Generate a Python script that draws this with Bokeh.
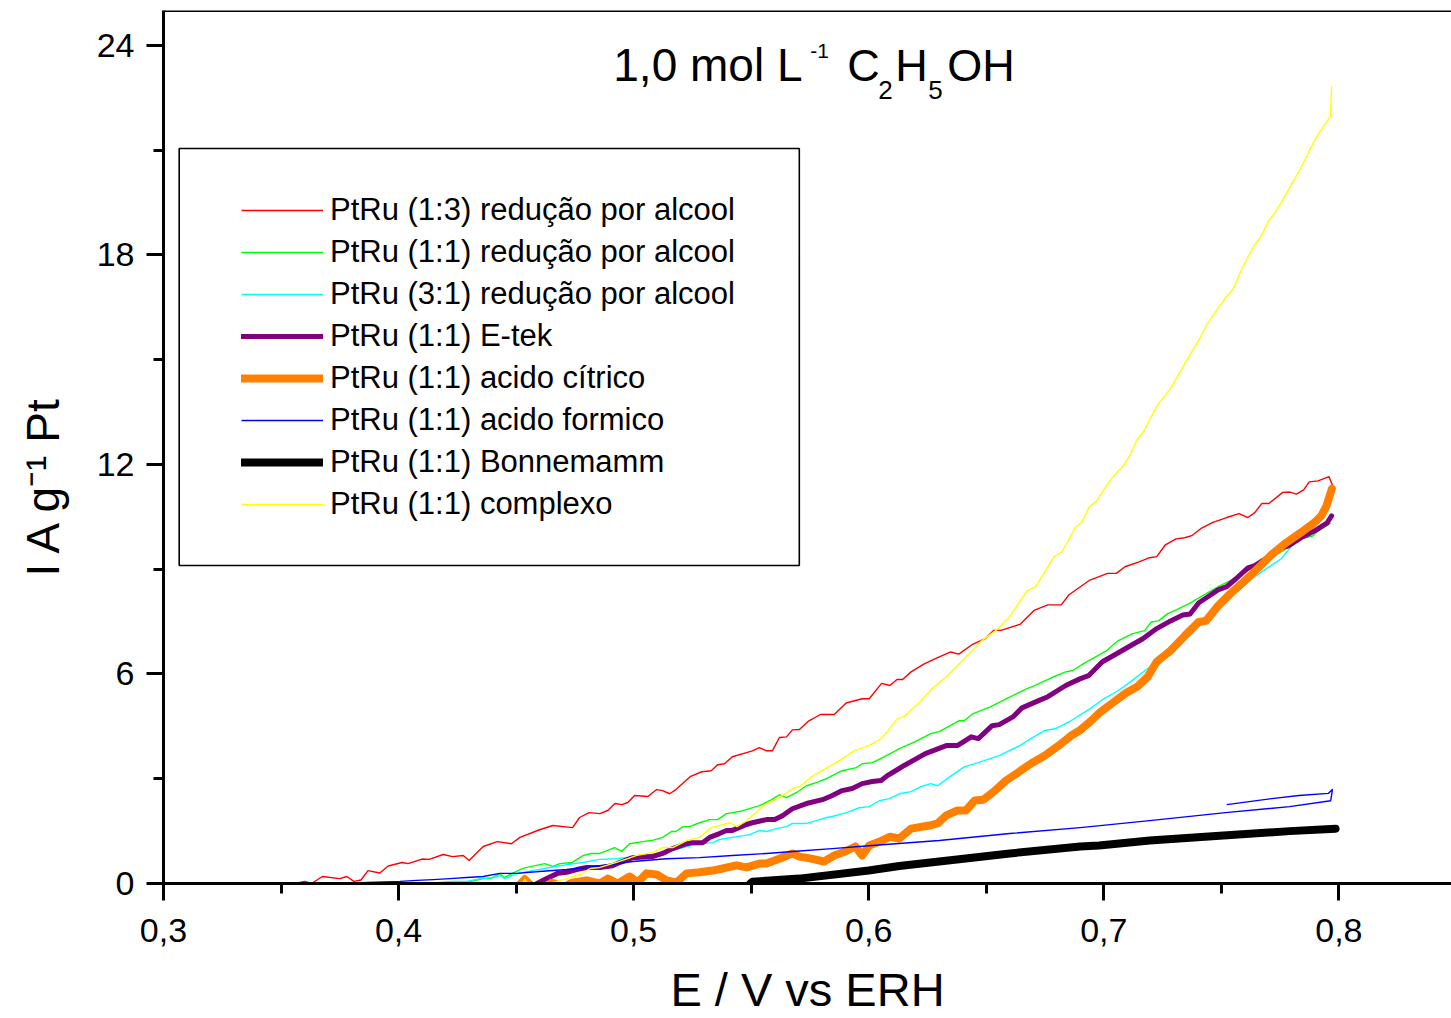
from bokeh.plotting import figure
from bokeh.models import (Range1d, FixedTicker, CustomJSTickFormatter, Label,
                          Legend, LegendItem, BoxAnnotation, Span)
from bokeh.embed import file_html
from bokeh.resources import INLINE

# ---------------- data (E / V vs ERH, I / A g-1 Pt) ----------------
red_pts = [(0.356, 0.0), (0.360, 0.06), (0.363, 0.0), (0.3676, 0.2), (0.375, 0.14), (0.378, 0.2),
           (0.381, 0.06), (0.384, 0.1), (0.387, 0.37), (0.392, 0.3), (0.3956, 0.5), (0.4015, 0.6),
           (0.404, 0.57), (0.410, 0.7), (0.413, 0.69), (0.419, 0.83), (0.423, 0.77), (0.4275, 0.8),
           (0.430, 0.66), (0.436, 1.06), (0.442, 1.2), (0.448, 1.14), (0.4516, 1.32), (0.460, 1.54),
           (0.4656, 1.66), (0.474, 1.6), (0.477, 1.89), (0.481, 2.03), (0.4856, 2.0), (0.489, 2.09),
           (0.492, 2.29), (0.495, 2.26), (0.4975, 2.32), (0.5004, 2.52), (0.506, 2.49), (0.5098, 2.69),
           (0.5123, 2.66), (0.5153, 2.57), (0.518, 2.69), (0.524, 3.06), (0.529, 3.2), (0.533, 3.23),
           (0.5357, 3.4), (0.5386, 3.43), (0.542, 3.63), (0.548, 3.75), (0.5505, 3.8), (0.5535, 3.89),
           (0.5565, 3.8), (0.559, 3.8), (0.562, 4.18), (0.565, 4.2), (0.5675, 4.4), (0.5705, 4.41),
           (0.5742, 4.64), (0.5794, 4.84), (0.5853, 4.84), (0.5904, 5.17), (0.5972, 5.29), (0.6002, 5.29),
           (0.6055, 5.73), (0.609, 5.67), (0.612, 5.84), (0.6144, 5.84), (0.618, 6.06), (0.6234, 6.28),
           (0.6293, 6.47), (0.6349, 6.63), (0.6383, 6.57), (0.6442, 6.85), (0.6495, 7.01), (0.6532, 7.25),
           (0.6562, 7.25), (0.6643, 7.42), (0.6703, 7.82), (0.6762, 7.98), (0.6819, 7.98), (0.6852, 8.27),
           (0.6941, 8.69), (0.7016, 8.88), (0.7053, 8.88), (0.709, 9.07), (0.715, 9.21), (0.7195, 9.33),
           (0.7225, 9.36), (0.7262, 9.7), (0.7307, 9.87), (0.7344, 9.9), (0.7374, 9.96), (0.7412, 10.16),
           (0.7464, 10.34), (0.7523, 10.48), (0.7575, 10.59), (0.7613, 10.48), (0.7642, 10.62),
           (0.7672, 10.88), (0.7702, 10.88), (0.7761, 11.2), (0.7791, 11.21), (0.782, 11.15),
           (0.785, 11.27), (0.7874, 11.5), (0.7911, 11.53), (0.7958, 11.65), (0.7973, 11.4)]

green_pts = [(0.4168, 0.0), (0.4205, 0.03), (0.4248, 0.0), (0.431, 0.06), (0.436, 0.14), (0.439, 0.14),
             (0.443, 0.28), (0.445, 0.17), (0.4486, 0.3), (0.4524, 0.42), (0.4546, 0.46), (0.4622, 0.57),
             (0.4656, 0.49), (0.4686, 0.57), (0.4737, 0.6), (0.4784, 0.8), (0.482, 0.86), (0.4856, 0.86),
             (0.4919, 1.03), (0.4949, 0.92), (0.4983, 1.14), (0.5038, 1.2), (0.5076, 1.23), (0.5123, 1.32),
             (0.5161, 1.49), (0.518, 1.49), (0.521, 1.63), (0.5238, 1.63), (0.528, 1.74), (0.5323, 1.83),
             (0.5357, 1.83), (0.5395, 2.0), (0.545, 2.06), (0.5535, 2.23), (0.5578, 2.37), (0.562, 2.54),
             (0.565, 2.46), (0.5692, 2.6), (0.5735, 2.8), (0.5777, 2.89), (0.582, 3.0), (0.5887, 3.23),
             (0.5947, 3.32), (0.5972, 3.43), (0.6015, 3.46), (0.6057, 3.6), (0.61, 3.75), (0.613, 3.86),
             (0.6198, 4.06), (0.6264, 4.29), (0.63, 4.35), (0.6383, 4.66), (0.6406, 4.66), (0.6442, 4.86),
             (0.6517, 5.06), (0.6584, 5.29), (0.6673, 5.58), (0.6703, 5.66), (0.6786, 5.92), (0.6838, 6.06),
             (0.6868, 6.1), (0.6912, 6.29), (0.6965, 6.49), (0.701, 6.66), (0.706, 6.95), (0.712, 7.15),
             (0.7173, 7.24), (0.7203, 7.49), (0.7233, 7.52), (0.727, 7.72), (0.7315, 7.86), (0.7367, 8.03),
             (0.7404, 8.18), (0.7493, 8.52), (0.7538, 8.67), (0.776, 9.52), (0.7836, 9.87), (0.7888, 9.95),
             (0.7911, 10.09), (0.7965, 10.32)]

cyan_pts = [(0.4112, 0.0), (0.4232, 0.06), (0.429, 0.06), (0.4346, 0.14), (0.4402, 0.17), (0.4431, 0.23),
            (0.4452, 0.14), (0.45, 0.28), (0.457, 0.37), (0.4643, 0.46), (0.4715, 0.54), (0.4784, 0.6),
            (0.4856, 0.69), (0.4928, 0.71), (0.4996, 0.77), (0.5068, 0.83), (0.514, 0.89), (0.521, 1.03),
            (0.528, 1.14), (0.5336, 1.17), (0.5365, 1.26), (0.542, 1.32), (0.5493, 1.4), (0.5535, 1.52),
            (0.5565, 1.49), (0.5607, 1.57), (0.565, 1.63), (0.5675, 1.72), (0.5735, 1.72), (0.5777, 1.8),
            (0.582, 1.89), (0.5845, 1.92), (0.5905, 2.03), (0.596, 2.17), (0.6002, 2.2), (0.6045, 2.37),
            (0.6087, 2.43), (0.613, 2.57), (0.618, 2.63), (0.622, 2.77), (0.6264, 2.86), (0.6293, 2.8),
            (0.6346, 3.06), (0.6406, 3.34), (0.6465, 3.46), (0.6555, 3.66), (0.6605, 3.83), (0.6643, 3.95),
            (0.6689, 4.15), (0.6748, 4.38), (0.6793, 4.43), (0.686, 4.66), (0.694, 5.0), (0.7, 5.29),
            (0.706, 5.52), (0.712, 5.81), (0.7195, 6.2), (0.727, 6.67), (0.7344, 7.06), (0.7404, 7.44),
            (0.7455, 7.78), (0.751, 8.05), (0.757, 8.38), (0.763, 8.72), (0.7696, 9.04), (0.7755, 9.3),
            (0.7793, 9.62), (0.7852, 9.95), (0.7911, 10.15), (0.7965, 10.38)]

purple_pts = [(0.4588, 0.0), (0.463, 0.14), (0.4677, 0.29), (0.4715, 0.32), (0.4757, 0.4), (0.48, 0.46),
              (0.4856, 0.46), (0.491, 0.51), (0.494, 0.6), (0.4996, 0.74), (0.508, 0.77), (0.5123, 0.86),
              (0.5166, 1.0), (0.5225, 1.14), (0.525, 1.17), (0.5293, 1.17), (0.5323, 1.32), (0.5365, 1.43),
              (0.5395, 1.52), (0.542, 1.52), (0.548, 1.69), (0.5505, 1.74), (0.5565, 1.83), (0.56, 1.83),
              (0.5633, 1.94), (0.5675, 2.14), (0.5735, 2.29), (0.5803, 2.4), (0.5845, 2.52), (0.5887, 2.66),
              (0.593, 2.72), (0.5972, 2.86), (0.6015, 2.92), (0.6053, 2.95), (0.6079, 3.09), (0.6107, 3.2),
              (0.6151, 3.38), (0.6241, 3.72), (0.633, 3.95), (0.6377, 3.95), (0.6436, 4.2), (0.6466, 4.15),
              (0.6525, 4.52), (0.6555, 4.55), (0.6615, 4.78), (0.6652, 5.03), (0.672, 5.23), (0.6762, 5.35),
              (0.6838, 5.67), (0.6898, 5.86), (0.6935, 5.95), (0.6994, 6.35), (0.7047, 6.55), (0.7106, 6.78),
              (0.7166, 7.01), (0.7225, 7.3), (0.7284, 7.52), (0.7336, 7.69), (0.7367, 7.72), (0.7404, 8.04),
              (0.7449, 8.24), (0.7486, 8.41), (0.7523, 8.5), (0.7561, 8.72), (0.7613, 9.04), (0.7642, 9.1),
              (0.7696, 9.33), (0.774, 9.58), (0.7785, 9.67), (0.7838, 9.9), (0.7897, 10.1), (0.795, 10.33),
              (0.7969, 10.53)]

orange_pts = [(0.452, 0.0), (0.4537, 0.12), (0.4555, 0.0), (0.459, -0.3), (0.4635, -0.05), (0.465, 0.02),
              (0.4665, 0.0), (0.469, -0.2), (0.4725, -0.02), (0.4737, 0.02), (0.48, 0.09), (0.4856, 0.0),
              (0.489, 0.14), (0.4933, 0.0), (0.4983, 0.2), (0.5017, 0.03), (0.5055, 0.29), (0.5098, 0.26),
              (0.514, 0.09), (0.5183, 0.03), (0.5225, 0.29), (0.528, 0.32), (0.5336, 0.37), (0.5378, 0.43),
              (0.5437, 0.52), (0.548, 0.46), (0.5535, 0.57), (0.5565, 0.57), (0.562, 0.71), (0.5675, 0.86),
              (0.5705, 0.77), (0.575, 0.72), (0.581, 0.63), (0.5853, 0.8), (0.5898, 0.91), (0.5943, 1.06),
              (0.5972, 0.8), (0.6002, 1.09), (0.6047, 1.2), (0.6091, 1.34), (0.613, 1.29), (0.618, 1.57),
              (0.6257, 1.66), (0.6293, 1.72), (0.633, 1.95), (0.6377, 2.09), (0.6413, 2.09), (0.6451, 2.38),
              (0.6487, 2.4), (0.6532, 2.63), (0.6584, 2.95), (0.6629, 3.15), (0.6689, 3.43), (0.6748, 3.66),
              (0.6808, 3.95), (0.686, 4.23), (0.6897, 4.38), (0.6941, 4.63), (0.6987, 4.92), (0.7039, 5.18),
              (0.7091, 5.44), (0.7143, 5.64), (0.7187, 5.92), (0.7225, 6.35), (0.7284, 6.67), (0.7344, 7.09),
              (0.7404, 7.49), (0.7434, 7.52), (0.7486, 7.95), (0.7538, 8.3), (0.759, 8.61), (0.7657, 9.04),
              (0.7717, 9.44), (0.7776, 9.76), (0.7836, 10.04), (0.7895, 10.33), (0.7925, 10.53),
              (0.7947, 10.81), (0.7963, 11.15), (0.797, 11.3)]

blue_pts = [(0.378, 0.0), (0.3866, 0.03), (0.4006, 0.06), (0.4078, 0.09), (0.4146, 0.11), (0.4219, 0.14),
            (0.429, 0.17), (0.436, 0.2), (0.443, 0.29), (0.4503, 0.29), (0.457, 0.33), (0.4715, 0.4),
            (0.4856, 0.5), (0.4996, 0.63), (0.514, 0.71), (0.528, 0.74), (0.542, 0.8), (0.5565, 0.86),
            (0.5705, 0.93), (0.5845, 1.0), (0.6, 1.08), (0.63, 1.23), (0.66, 1.43), (0.69, 1.6),
            (0.7195, 1.8), (0.7518, 2.03), (0.779, 2.2), (0.7965, 2.37), (0.797, 2.57), (0.7972, 2.69),
            (0.7955, 2.58), (0.783, 2.52), (0.7714, 2.43), (0.7523, 2.26)]

black_pts = [(0.5493, -0.02), (0.5505, 0.05), (0.5705, 0.14), (0.6, 0.37), (0.613, 0.5), (0.63, 0.63),
             (0.66, 0.86), (0.69, 1.06), (0.698, 1.09), (0.7195, 1.23), (0.7493, 1.37), (0.779, 1.5),
             (0.7986, 1.57)]

yellow_pts = [(0.452, -0.1), (0.4537, 0.12), (0.4555, -0.1), (0.4635, 0.0), (0.4665, 0.04), (0.4715, 0.14),
              (0.478, 0.28), (0.4815, 0.43), (0.4856, 0.46), (0.491, 0.57), (0.4975, 0.71), (0.501, 0.8),
              (0.508, 0.89), (0.5123, 1.03), (0.5166, 1.03), (0.5225, 1.23), (0.528, 1.32), (0.533, 1.6),
              (0.5408, 1.74), (0.544, 1.63), (0.548, 1.8), (0.5565, 2.29), (0.562, 2.46), (0.5675, 2.72),
              (0.5705, 2.77), (0.5764, 3.09), (0.5868, 3.49), (0.5942, 3.81), (0.6, 3.95), (0.6055, 4.15),
              (0.6122, 4.72), (0.615, 4.78), (0.621, 5.15), (0.627, 5.58), (0.633, 5.92), (0.6398, 6.38),
              (0.648, 6.95), (0.654, 7.24), (0.6597, 7.62), (0.6673, 8.38), (0.671, 8.5), (0.6788, 9.36),
              (0.6822, 9.5), (0.688, 10.21), (0.6908, 10.36), (0.6937, 10.78), (0.6966, 10.93), (0.703, 11.58),
              (0.7085, 11.98), (0.7114, 12.29), (0.714, 12.7), (0.717, 12.95), (0.7225, 13.67), (0.7284, 14.18),
              (0.7348, 14.93), (0.7404, 15.56), (0.7438, 16.0), (0.7488, 16.5), (0.7522, 16.81), (0.755, 17.02),
              (0.7586, 17.59), (0.7637, 18.25), (0.7666, 18.5), (0.77, 18.96), (0.7729, 19.22), (0.7757, 19.52),
              (0.7794, 19.97), (0.7842, 20.54), (0.7879, 21.05), (0.7906, 21.4), (0.7964, 21.97),
              (0.7969, 22.83)]

series_labels = ["PtRu (1:3) redução por alcool", "PtRu (1:1) redução por alcool",
                 "PtRu (3:1) redução por alcool", "PtRu (1:1) E-tek", "PtRu (1:1) acido cítrico",
                 "PtRu (1:1) acido formico", "PtRu (1:1) Bonnemamm", "PtRu (1:1) complexo"]

x_major_ticks = [0.3, 0.4, 0.5, 0.6, 0.7, 0.8]
x_minor_ticks = [0.35, 0.45, 0.55, 0.65, 0.75]
y_major_ticks = [0, 6, 12, 18, 24]
y_minor_ticks = [3, 9, 15, 21]

x_title = "E / V vs ERH"
y_title = "I A g\u207b\u00b9 Pt" + "\u00a0" * 6

# ---------------- styling ----------------
FONT = "Liberation Sans"
X0, X1 = 0.3, 0.8479
Y0, Y1 = 0.0, 25.0
PX_PER_X = 2350.4   # pixels per unit of E
PX_PER_Y = 34.92    # pixels per unit of I
FRAME_LEFT, FRAME_BOTTOM = 163.3, 883.0
BASE_SHIFT = 0.385  # label baseline correction, in em


def dx(px):
    return X0 + (px - FRAME_LEFT) / PX_PER_X


def dy(py):
    return (FRAME_BOTTOM - py) / PX_PER_Y


p = figure(width=1451, height=1018, output_backend="svg", toolbar_location=None,
           x_range=Range1d(X0, X1), y_range=Range1d(Y0, Y1),
           min_border_left=163, min_border_right=0, min_border_top=10, min_border_bottom=135)
p.background_fill_color = "white"
p.border_fill_color = "white"
p.outline_line_color = None
p.xgrid.visible = False
p.ygrid.visible = False

for ax in (p.xaxis[0], p.yaxis[0]):
    ax.axis_line_width = 3
    ax.axis_line_color = "black"
    ax.major_tick_line_width = 3
    ax.minor_tick_line_width = 3
    ax.major_tick_in = 0
    ax.major_tick_out = 17
    ax.minor_tick_in = 0
    ax.minor_tick_out = 10
    ax.major_label_text_font = FONT
    ax.major_label_text_font_size = "34px"
    ax.major_label_text_color = "black"
    ax.axis_label_text_font = FONT
    ax.axis_label_text_font_style = "normal"
    ax.axis_label_text_color = "black"

p.xaxis.ticker = FixedTicker(ticks=x_major_ticks, minor_ticks=x_minor_ticks)
p.yaxis.ticker = FixedTicker(ticks=y_major_ticks, minor_ticks=y_minor_ticks)
p.xaxis.formatter = CustomJSTickFormatter(code="return tick.toFixed(1).replace('.', ',');")
p.yaxis.formatter = CustomJSTickFormatter(code="return tick.toFixed(0);")
p.xaxis.major_label_standoff = 18
p.yaxis.major_label_standoff = 12
p.xaxis.axis_label = x_title
p.xaxis.axis_label_text_font_size = "47px"
p.xaxis.axis_label_standoff = 18
p.yaxis.axis_label = y_title
p.yaxis.axis_label_text_font_size = "46px"
p.yaxis.axis_label_standoff = 25

# top frame line
p.add_layout(Span(location=Y1, dimension="width", line_color="black", line_width=3))

styles = [
    ("#FF0000", 1.4), ("#00FF00", 1.4), ("#00FFFF", 1.4), ("#800080", 5),
    ("#FF8000", 8), ("#0000FF", 1.4), ("#000000", 8), ("#FFFF00", 1.4),
]
all_pts = [red_pts, green_pts, cyan_pts, purple_pts, orange_pts, blue_pts, black_pts, yellow_pts]

items = []
for pts, (col, lw), lab in zip(all_pts, styles, series_labels):
    xs = [a for a, b in pts]
    ys = [b for a, b in pts]
    r = p.line(xs, ys, line_color=col, line_width=lw, line_join="round",
               line_cap="round" if lw > 3 else "butt")
    items.append(LegendItem(label=lab, renderers=[r]))

legend = Legend(items=items, location=(78, 358), orientation="vertical",
                glyph_width=82, glyph_height=42, label_height=42, label_standoff=7,
                spacing=0, padding=0, margin=0,
                label_text_font=FONT, label_text_font_size="31px", label_text_color="black",
                label_text_baseline="middle",
                border_line_color=None, background_fill_alpha=0)
p.add_layout(legend, "center")

# legend frame
p.add_layout(BoxAnnotation(left=dx(179), right=dx(799), top=dy(148), bottom=dy(565),
                           fill_alpha=0, line_color="black", line_alpha=1.0, line_width=1.6,
                           level="overlay"))

# title: 1,0 mol L^-1 C2H5OH  (pieces: text, left px, baseline px, size px)
title_parts = [("1,0 mol L", 613, 82, 46), ("-1", 810, 59, 21), ("C", 847, 82, 45),
               ("2", 878, 100, 26), ("H", 895, 82, 45), ("5", 928, 100, 26),
               ("OH", 947, 82, 45)]
for txt, px, py, fs in title_parts:
    p.add_layout(Label(x=dx(px), y=dy(py - BASE_SHIFT * fs), text=txt, text_font=FONT,
                       text_font_size=f"{fs}px", text_color="black", text_align="left",
                       text_baseline="alphabetic"))

open("out.html", "w").write(file_html(p, INLINE))
